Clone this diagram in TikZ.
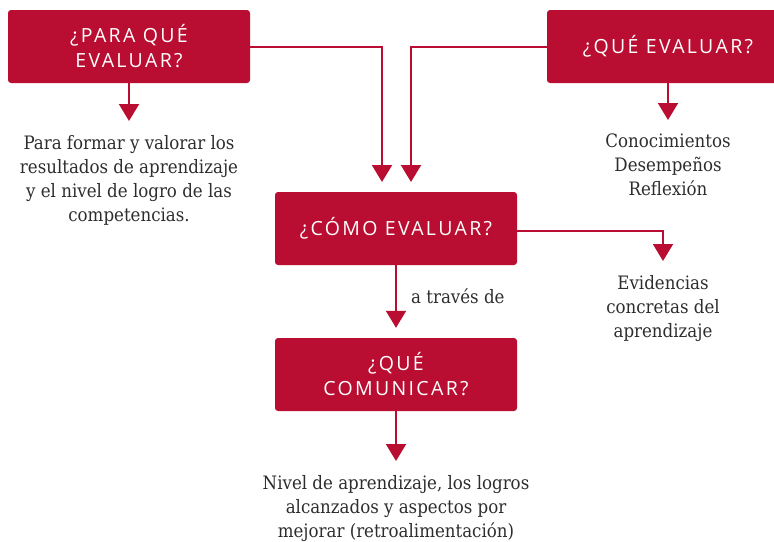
\documentclass[tikz,border=0pt]{standalone}
\usepackage{fontspec}
\setmainfont{DejaVu Serif Condensed}
\newfontfamily\boxfont[LetterSpace=12]{Open Sans}
\usetikzlibrary{arrows.meta}
\definecolor{evalred}{RGB}{185,14,50}
\definecolor{notegray}{RGB}{45,45,45}

\begin{document}
\begin{tikzpicture}[x=1pt, y=-1pt,
    box/.style={rectangle, rounded corners=3pt, fill=evalred, text=white,
        minimum width=242pt, minimum height=73pt, inner sep=0pt,
        align=center, font=\boxfont\fontsize{19.5}{25}\selectfont},
    note/.style={anchor=north, inner sep=0pt, text=notegray, align=center,
        font=\fontsize{18.5}{24}\selectfont},
    arrow/.style={draw=evalred, line width=2pt, shorten >=10pt,
        -{Triangle[width=20pt, length=17pt]}}
]
    \useasboundingbox (0,0) rectangle (774,541);
    % boxes
    \node[box] (para) at (129,46.5) {¿PARA QUÉ\\EVALUAR?};
    \node[box] (que) at (668,46.5) {¿QUÉ EVALUAR?};
    \node[box] (como) at (396,228.5) {¿CÓMO EVALUAR?};
    \node[box] (comu) at (396,374.5) {¿QUÉ\\COMUNICAR?};
    % notes
    \node[note] (paranote) at (129,135) {Para formar y valorar los\\resultados de aprendizaje\\y el nivel de logro de las\\competencias.};
    \node[note] (quenote) at (668,134) {Conocimientos\\Desempeños\\Reflexión};
    \node[note] (comonote) at (663,275) {Evidencias\\concretas del\\aprendizaje};
    \node[note] (comunote) at (396,475) {Nivel de aprendizaje, los logros\\alcanzados y aspectos por\\mejorar (retroalimentación)};
    \node[anchor=west, inner sep=0pt, text=notegray, font=\fontsize{18.5}{24}\selectfont] (via) at (411,296) {a través de};
    \coordinate (inpara) at (382,192);
    \coordinate (inque) at (411,192);
    % connectors
    \draw[arrow, shorten >=14pt] (para.south) -- (paranote.north);
    \draw[arrow, shorten >=14pt] (que.south -| quenote.north) -- (quenote.north);
    \draw[arrow] (para.east) -| (inpara);
    \draw[arrow] (que.west) -| (inque);
    \draw[arrow, shorten >=14pt] ([yshift=-2.5pt]como.east) -| (comonote.north);
    \draw[arrow] (como.south) -- (comu.north);
    \draw[arrow, shorten >=14pt] (comu.south) -- (comunote.north);
\end{tikzpicture}
\end{document}
